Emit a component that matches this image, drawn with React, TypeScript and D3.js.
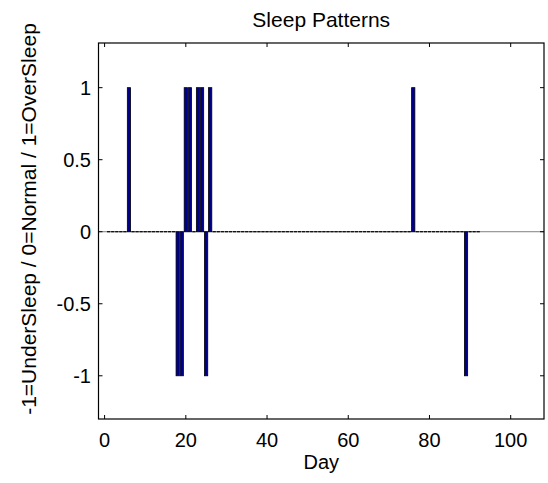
import React, { useEffect, useRef } from "react";
import * as d3 from "d3";

// sleep state per day: -1 = under, 0 = normal, 1 = over
const sleepValues = [
  0, 0, 0, 0, 0, 1, 0, 0, 0, 0,
  0, 0, 0, 0, 0, 0, 0, -1, -1, 1,
  1, 0, 1, 1, -1, 1, 0, 0, 0, 0,
  0, 0, 0, 0, 0, 0, 0, 0, 0, 0,
  0, 0, 0, 0, 0, 0, 0, 0, 0, 0,
  0, 0, 0, 0, 0, 0, 0, 0, 0, 0,
  0, 0, 0, 0, 0, 0, 0, 0, 0, 0,
  0, 0, 0, 0, 0, 1, 0, 0, 0, 0,
  0, 0, 0, 0, 0, 0, 0, 0, -1, 0,
  0, 0,
];
const days = sleepValues.map((_, i) => i + 1);

const xTicks = [0, 20, 40, 60, 80, 100];
const yTicks = [-1, -0.5, 0, 0.5, 1];

const App = () => {
  const ref = useRef<SVGSVGElement>(null);

  useEffect(() => {
    if (!ref.current) return;
    const svg = d3.select(ref.current);
    svg.selectAll("*").remove();

    const left = 98.5, right = 544, top = 43, bottom = 419;
    const font = "'Liberation Sans', Arial, sans-serif";

    const x = d3.scaleLinear().domain([-1.5, 108.2]).range([left, right]);
    const y = d3.scaleLinear().domain([-1.3, 1.31]).range([bottom, top]);
    const barW = x(0.8) - x(0);

    // baseline
    svg.append("line")
      .attr("x1", left).attr("x2", right)
      .attr("y1", y(0)).attr("y2", y(0))
      .attr("stroke", "#808080").attr("stroke-width", 1);

    // zero-height bars show up as short black edges on the baseline
    svg.append("g")
      .selectAll("line")
      .data(days.filter((d, i) => sleepValues[i] === 0))
      .enter()
      .append("line")
      .attr("x1", (d) => x(d) - barW / 2)
      .attr("x2", (d) => x(d) + barW / 2)
      .attr("y1", y(0)).attr("y2", y(0))
      .attr("stroke", "#000").attr("stroke-width", 1.2);

    // bars
    svg.append("g")
      .selectAll("rect")
      .data(days.filter((d, i) => sleepValues[i] !== 0))
      .enter()
      .append("rect")
      .attr("x", (d) => x(d) - barW / 2)
      .attr("y", (d) => y(Math.max(0, sleepValues[d - 1])))
      .attr("width", barW)
      .attr("height", (d) => Math.abs(y(sleepValues[d - 1]) - y(0)))
      .attr("fill", "#00008f")
      .attr("stroke", "#000")
      .attr("stroke-width", 0.8);

    // box
    svg.append("rect")
      .attr("x", left).attr("y", top)
      .attr("width", right - left).attr("height", bottom - top)
      .attr("fill", "none").attr("stroke", "#000").attr("stroke-width", 1.2);

    const tickLen = 4;
    const ticks = svg.append("g").attr("stroke", "#000").attr("stroke-width", 1);
    xTicks.forEach((t) => {
      ticks.append("line").attr("x1", x(t)).attr("x2", x(t)).attr("y1", bottom).attr("y2", bottom - tickLen);
      ticks.append("line").attr("x1", x(t)).attr("x2", x(t)).attr("y1", top).attr("y2", top + tickLen);
    });
    yTicks.forEach((t) => {
      ticks.append("line").attr("x1", left).attr("x2", left + tickLen).attr("y1", y(t)).attr("y2", y(t));
      ticks.append("line").attr("x1", right).attr("x2", right - tickLen).attr("y1", y(t)).attr("y2", y(t));
    });

    svg.append("g")
      .selectAll("text")
      .data(xTicks)
      .enter()
      .append("text")
      .attr("x", (d) => x(d))
      .attr("y", 447)
      .attr("text-anchor", "middle")
      .attr("font-family", font)
      .attr("font-size", 20)
      .text((d) => d);

    svg.append("g")
      .selectAll("text")
      .data(yTicks)
      .enter()
      .append("text")
      .attr("x", 91)
      .attr("y", (d) => y(d) + 7)
      .attr("text-anchor", "end")
      .attr("font-family", font)
      .attr("font-size", 20)
      .text((d) => d);

    svg.append("text")
      .attr("x", (left + right) / 2)
      .attr("y", 469)
      .attr("text-anchor", "middle")
      .attr("font-family", font)
      .attr("font-size", 20)
      .text("Day");

    svg.append("text")
      .attr("transform", `translate(36, 219) rotate(-90)`)
      .attr("text-anchor", "middle")
      .attr("font-family", font)
      .attr("font-size", 21)
      .text("-1=UnderSleep / 0=Normal / 1=OverSleep");

    svg.append("text")
      .attr("x", (left + right) / 2)
      .attr("y", 27)
      .attr("text-anchor", "middle")
      .attr("font-family", font)
      .attr("font-size", 21)
      .text("Sleep Patterns");
  }, []);

  return (
    <svg
      ref={ref}
      width="548"
      height="483"
      style={{ position: "absolute", left: 0, top: 0, background: "#fff" }}
    ></svg>
  );
};

export default App;
